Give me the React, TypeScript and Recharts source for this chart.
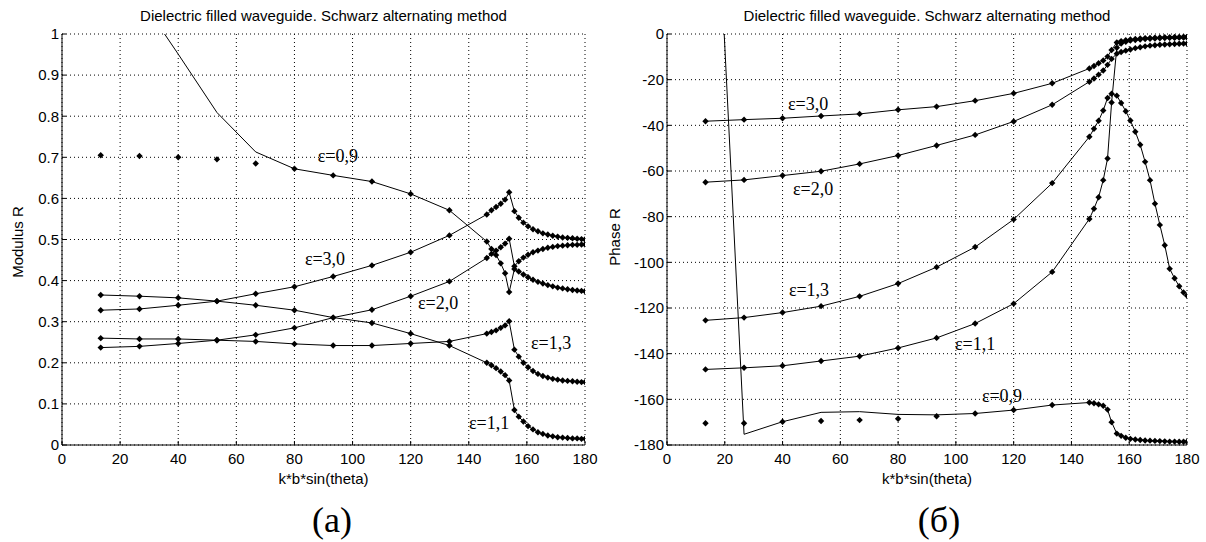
import React from 'react';
import { LineChart, Line, XAxis, YAxis, CartesianGrid, ReferenceDot } from 'recharts';

// k*b*sin(theta), common abscissa of both panels
const kbs = [
  13.33, 26.67, 40, 53.33, 66.67, 80, 93.33, 106.67, 120, 133.33,
  146.2, 147.8, 149.4, 151.0, 152.5, 153.9,
  155.7, 157.2, 158.8, 160.4, 162.1, 163.8, 165.5, 167.2, 168.9, 170.6, 172.3, 174.0, 175.7, 177.3, 178.8, 180,
];

// Modulus R
const modE30 = [
  0.328, 0.331, 0.340, 0.350, 0.368, 0.385, 0.410, 0.437, 0.469, 0.510,
  0.561, 0.571, 0.579, 0.587, 0.597, 0.615,
  0.569, 0.553, 0.541, 0.532, 0.525, 0.520, 0.515, 0.512, 0.509, 0.507, 0.505, 0.504, 0.503, 0.502, 0.501, 0.500,
];
const modE20 = [
  0.237, 0.240, 0.247, 0.255, 0.268, 0.285, 0.310, 0.329, 0.362, 0.398,
  0.455, 0.465, 0.473, 0.481, 0.490, 0.502,
  0.435, 0.447, 0.456, 0.463, 0.469, 0.473, 0.477, 0.480, 0.482, 0.484, 0.485, 0.486, 0.487, 0.487, 0.488, 0.488,
];
const modE13 = [
  0.260, 0.258, 0.258, 0.255, 0.252, 0.246, 0.242, 0.242, 0.247, 0.252,
  0.271, 0.275, 0.279, 0.285, 0.291, 0.301,
  0.232, 0.215, 0.200, 0.189, 0.180, 0.173, 0.168, 0.164, 0.161, 0.159, 0.157, 0.156, 0.155, 0.154, 0.153, 0.153,
];
const modE11 = [
  0.365, 0.362, 0.358, 0.350, 0.340, 0.328, 0.310, 0.297, 0.271, 0.242,
  0.200, 0.194, 0.187, 0.179, 0.170, 0.157,
  0.085, 0.069, 0.057, 0.046, 0.038, 0.031, 0.027, 0.023, 0.021, 0.019, 0.018, 0.017, 0.016, 0.016, 0.015, 0.015,
];
const modE09Line = [
  1.22, 1.09, 0.951, 0.809, 0.713, 0.672, 0.656, 0.641, 0.611, 0.571,
  0.495, 0.477, 0.462, 0.442, 0.418, 0.372,
  0.428, 0.422, 0.415, 0.408, 0.402, 0.397, 0.393, 0.389, 0.386, 0.383, 0.381, 0.379, 0.377, 0.376, 0.375, 0.374,
];
const modE09Dots = [
  0.705, 0.703, 0.700, 0.695, 0.685, 0.672, 0.656, 0.641, 0.611, 0.571,
  0.495, 0.477, 0.462, 0.442, 0.418, 0.372,
  0.428, 0.422, 0.415, 0.408, 0.402, 0.397, 0.393, 0.389, 0.386, 0.383, 0.381, 0.379, 0.377, 0.376, 0.375, 0.374,
];

// Phase R (degrees)
const phE30 = [
  -38.2, -37.5, -36.9, -35.9, -35.0, -33.2, -31.8, -29.2, -26.0, -21.6,
  -15.1, -14.0, -12.8, -11.6, -9.9, -7.0,
  -3.7, -3.1, -2.7, -2.4, -2.2, -2.0, -1.8, -1.7, -1.6, -1.5, -1.4, -1.4, -1.3, -1.3, -1.2, -1.2,
];
const phE20 = [
  -64.9, -63.9, -62.0, -60.1, -56.9, -53.2, -48.8, -44.2, -38.3, -31.0,
  -20.9, -19.5, -17.8, -16.0, -13.5, -10.9,
  -8.6, -7.9, -7.3, -6.8, -6.2, -5.8, -5.4, -5.1, -4.9, -4.7, -4.6, -4.5, -4.4, -4.3, -4.2, -4.2,
];
const phE13 = [
  -125.4, -124.2, -122.0, -119.2, -114.9, -109.3, -102.1, -93.3, -81.2, -65.3,
  -45.0, -41.5, -38.0, -33.5, -28.0, -26.2,
  -27.0, -30.2, -33.8, -37.9, -42.8, -48.5, -56.0, -64.0, -74.3, -83.6, -92.5, -102.8, -107.0, -110.5, -113.2, -114.6,
];
const phE11 = [
  -146.9, -146.2, -145.3, -143.2, -141.1, -137.5, -133.1, -126.8, -118.1, -104.2,
  -81.0, -76.5, -71.5, -64.0, -54.5, -30.0,
  -6.0, -4.2, -3.4, -2.9, -2.6, -2.4, -2.2, -2.1, -2.0, -1.9, -1.8, -1.7, -1.7, -1.6, -1.6, -1.5,
];
const phE09Line = [
  165, -175.3, -169.8, -165.7, -165.4, -166.6, -166.8, -166.2, -164.7, -162.5,
  -161.4, -161.7, -162.2, -162.8, -164.5, -170.0,
  -175.0, -176.0, -176.8, -177.3, -177.6, -177.8, -178.0, -178.1, -178.2, -178.3, -178.4, -178.5, -178.5, -178.6, -178.6, -178.6,
];
const phE09Dots = [
  -170.5, -170.5, -169.8, -169.5, -169.1, -168.5, -167.4, -166.2, -164.7, -162.5,
  -161.4, -161.7, -162.2, -162.8, -164.5, -170.0,
  -175.0, -176.0, -176.8, -177.3, -177.6, -177.8, -178.0, -178.1, -178.2, -178.3, -178.4, -178.5, -178.5, -178.6, -178.6, -178.6,
];

const xTicks = [0, 20, 40, 60, 80, 100, 120, 140, 160, 180];
const modTicks = [0, 0.1, 0.2, 0.3, 0.4, 0.5, 0.6, 0.7, 0.8, 0.9, 1];
const phTicks = [-180, -160, -140, -120, -100, -80, -60, -40, -20, 0];

// curve annotations, in data units (left edge / baseline of the text)
const modNotes = [
  { text: 'ε=0,9', x: 88, y: 0.688 },
  { text: 'ε=3,0', x: 83.6, y: 0.439 },
  { text: 'ε=2,0', x: 122.5, y: 0.332 },
  { text: 'ε=1,3', x: 161.4, y: 0.234 },
  { text: 'ε=1,1', x: 140.1, y: 0.039 },
];
const phNotes = [
  { text: 'ε=3,0', x: 41.9, y: -33.3 },
  { text: 'ε=2,0', x: 43.6, y: -70.5 },
  { text: 'ε=1,3', x: 42.2, y: -114.8 },
  { text: 'ε=1,1', x: 99.7, y: -138.4 },
  { text: 'ε=0,9', x: 109, y: -161.2 },
];

const modRows = kbs.map((x, i) => ({
  x, e30: modE30[i], e20: modE20[i], e13: modE13[i], e11: modE11[i], e09: modE09Line[i], e09d: modE09Dots[i],
}));
const phRows = kbs.map((x, i) => ({
  x, e30: phE30[i], e20: phE20[i], e13: phE13[i], e11: phE11[i], e09: phE09Line[i], e09d: phE09Dots[i],
}));

const SANS = 'Liberation Sans, Arial, Helvetica, sans-serif';
const SERIF = 'Liberation Serif, Times New Roman, serif';
const tickFont = { fontSize: 15, fill: '#000', fontFamily: SANS };

const diamond = (p: any) => {
  if (p.cx == null || p.cy == null) return <g key={p.index} />;
  const s = 3.2;
  return (
    <path key={p.index} d={`M${p.cx},${p.cy - s}L${p.cx + s},${p.cy}L${p.cx},${p.cy + s}L${p.cx - s},${p.cy}Z`} fill="#000" />
  );
};

const noteShape = (text: string) => (p: any) => (
  <text x={p.cx} y={p.cy} fontFamily={SERIF} fontSize={18} fill="#000">{text}</text>
);

const series = ['e30', 'e20', 'e13', 'e11'];

interface PanelProps {
  rows: any[];
  yTicks: number[];
  yDomain: [number, number];
  notes: { text: string; x: number; y: number }[];
  width: number;
  marginLeft: number;
  marginRight: number;
}

const Panel: React.FC<PanelProps> = ({ rows, yTicks, yDomain, notes, width, marginLeft, marginRight }) => (
  <LineChart width={width} height={500} data={rows}
    margin={{ top: 34, right: marginRight, bottom: 25, left: marginLeft }}>
    <CartesianGrid stroke="#000" strokeDasharray="1 3" strokeWidth={1} />
    <XAxis dataKey="x" type="number" domain={[0, 180]} ticks={xTicks} interval={0} height={30}
      allowDataOverflow tick={tickFont} tickSize={-4} tickMargin={12}
      axisLine={{ stroke: '#000' }} tickLine={{ stroke: '#000' }} />
    <XAxis xAxisId="top" orientation="top" dataKey="x" type="number" domain={[0, 180]} ticks={xTicks}
      interval={0} height={0} tick={false} tickSize={-4}
      axisLine={{ stroke: '#000' }} tickLine={{ stroke: '#000' }} />
    <YAxis type="number" domain={yDomain} ticks={yTicks} interval={0} width={40} allowDataOverflow
      tick={tickFont} tickSize={-4} tickMargin={7}
      axisLine={{ stroke: '#000' }} tickLine={{ stroke: '#000' }} />
    <YAxis yAxisId="right" orientation="right" type="number" domain={yDomain} ticks={yTicks}
      interval={0} width={0} tick={false} tickSize={-4}
      axisLine={{ stroke: '#000' }} tickLine={{ stroke: '#000' }} />
    {series.map((k) => (
      <Line key={k} dataKey={k} type="linear" stroke="#000" strokeWidth={1}
        dot={diamond} activeDot={false} isAnimationActive={false} />
    ))}
    <Line dataKey="e09" type="linear" stroke="#000" strokeWidth={1}
      dot={false} activeDot={false} isAnimationActive={false} />
    <Line dataKey="e09d" type="linear" stroke="none" strokeWidth={0}
      dot={diamond} activeDot={false} isAnimationActive={false} />
    {notes.map((n) => (
      <ReferenceDot key={n.text} x={n.x} y={n.y} r={0} ifOverflow="visible" shape={noteShape(n.text)} />
    ))}
  </LineChart>
);

const App: React.FC = () => (
  <div style={{ position: 'absolute', left: 0, top: 0, width: 1206, height: 542, background: '#fff' }}>
    <div style={{ position: 'absolute', left: 0, top: 0 }}>
      <Panel rows={modRows} yTicks={modTicks} yDomain={[0, 1]} notes={modNotes}
        width={600} marginLeft={22} marginRight={15} />
    </div>
    <div style={{ position: 'absolute', left: 600, top: 0 }}>
      <Panel rows={phRows} yTicks={phTicks} yDomain={[-180, 0]} notes={phNotes}
        width={606} marginLeft={27} marginRight={19} />
    </div>
    <svg width={1206} height={542} style={{ position: 'absolute', left: 0, top: 0, pointerEvents: 'none' }}>
      <g fontFamily={SANS} fontSize={15} fill="#000" textAnchor="middle">
        <text x={323.5} y={21}>Dielectric filled waveguide. Schwarz alternating method</text>
        <text x={927} y={21}>Dielectric filled waveguide. Schwarz alternating method</text>
        <text x={323.5} y={484}>k*b*sin(theta)</text>
        <text x={927} y={484}>k*b*sin(theta)</text>
        <text x={23} y={242} transform="rotate(-90 23 242)">Modulus R</text>
        <text x={620} y={237} transform="rotate(-90 620 237)">Phase R</text>
      </g>
      <g fontFamily={SERIF} fontSize={36} fill="#000" textAnchor="middle">
        <text x={332} y={532}>(а)</text>
        <text x={939} y={532}>(б)</text>
      </g>
    </svg>
  </div>
);

export default App;
